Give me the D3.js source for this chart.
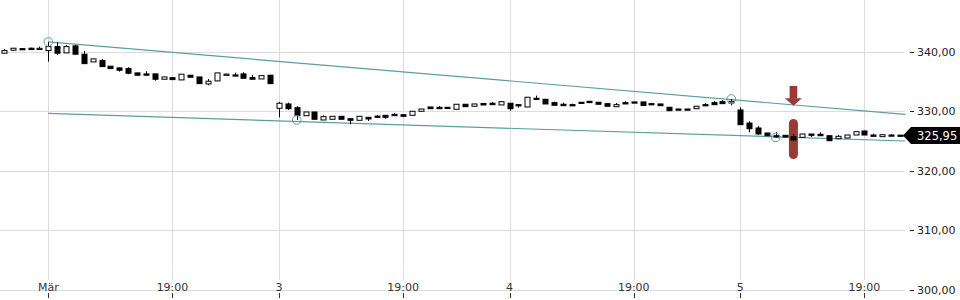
<!DOCTYPE html>
<html>
<head>
<meta charset="utf-8">
<script src="https://cdn.jsdelivr.net/npm/d3@7"></script>
<style>
  body { margin: 0; background: #fff; }
  svg { display: block; font-family: "DejaVu Sans", sans-serif; }
</style>
</head>
<body>
<svg id="chart"></svg>
<script>
// candles start at index -5 (previous session), [open, high, low, close]
const firstIndex = -5;
const candles = [
  [339.80, 340.52, 339.80, 340.24], [340.30, 340.64, 340.30, 340.64], [340.57, 340.57, 340.40, 340.40],
  [340.64, 340.74, 340.40, 340.40], [340.60, 340.91, 340.35, 340.62],
  [340.24, 341.70, 338.38, 340.91], [340.91, 341.65, 339.51, 339.80], [339.85, 341.20, 339.85, 340.91],
  [341.03, 341.20, 339.63, 339.63], [339.63, 340.19, 338.04, 338.04], [338.33, 338.84, 338.33, 338.84],
  [338.55, 338.79, 337.54, 337.54], [337.61, 337.61, 337.20, 337.20], [337.32, 337.32, 336.70, 336.93],
  [337.20, 337.44, 336.26, 336.42], [336.48, 336.48, 336.09, 336.09], [336.31, 336.76, 336.09, 336.09],
  [336.31, 336.31, 335.18, 335.41], [335.41, 335.80, 335.41, 335.80], [335.68, 335.68, 335.35, 335.35],
  [335.30, 336.26, 335.30, 336.26], [336.09, 336.09, 335.75, 335.75], [335.80, 335.80, 334.67, 334.67],
  [334.62, 335.46, 334.40, 335.08], [335.13, 336.48, 335.13, 336.48], [336.24, 336.36, 336.14, 336.27],
  [336.14, 336.53, 336.04, 336.04], [336.31, 336.59, 335.58, 335.58], [335.68, 336.09, 335.41, 335.41],
  [335.46, 336.02, 335.46, 336.02], [336.09, 336.09, 334.67, 334.67],
  [330.52, 331.59, 329.00, 331.37], [331.25, 331.47, 330.24, 330.45], [330.62, 330.91, 328.55, 329.34],
  [329.27, 329.90, 329.27, 329.90], [329.90, 329.90, 328.67, 328.67], [328.55, 329.34, 328.55, 329.11],
  [328.67, 329.17, 328.67, 329.17], [329.17, 329.17, 328.67, 328.67], [328.77, 328.77, 327.83, 328.50],
  [328.50, 329.17, 328.50, 329.17], [329.00, 329.00, 328.38, 328.72], [329.20, 329.39, 329.08, 329.08],
  [329.34, 329.34, 328.77, 329.00], [329.51, 329.68, 329.27, 329.27], [329.44, 329.44, 329.17, 329.17],
  [329.34, 330.02, 329.34, 330.02], [330.02, 330.40, 330.02, 330.40], [330.74, 330.74, 330.45, 330.45],
  [330.69, 330.91, 330.45, 330.45], [330.69, 330.69, 330.57, 330.57], [330.35, 331.20, 330.35, 331.20],
  [331.20, 331.20, 330.79, 330.79], [330.86, 331.25, 330.86, 331.25], [331.33, 331.33, 331.08, 331.08],
  [331.37, 331.59, 331.13, 331.13], [331.08, 331.64, 331.08, 331.64],
  [331.37, 331.37, 330.12, 330.45], [331.13, 331.13, 330.63, 330.96], [330.74, 332.38, 330.74, 332.38],
  [332.21, 332.65, 332.04, 332.04], [332.04, 332.04, 331.25, 331.25], [331.47, 331.64, 331.03, 331.03],
  [331.20, 331.47, 330.96, 330.96], [331.13, 331.30, 330.96, 330.96], [331.54, 331.54, 331.37, 331.37],
  [331.70, 331.70, 331.47, 331.47], [331.54, 331.54, 331.20, 331.20], [331.30, 331.30, 330.86, 330.86],
  [330.79, 331.42, 330.79, 331.13], [331.47, 331.70, 331.25, 331.25], [331.59, 331.59, 331.47, 331.47],
  [331.59, 331.59, 330.99, 330.99], [331.30, 331.30, 331.20, 331.20], [331.25, 331.25, 330.96, 330.96],
  [330.69, 330.69, 330.12, 330.12], [330.40, 330.40, 330.29, 330.29], [330.40, 330.40, 330.29, 330.29],
  [330.45, 330.86, 330.45, 330.86], [331.13, 331.37, 330.96, 330.96], [331.47, 331.70, 331.13, 331.13],
  [331.64, 331.87, 331.30, 331.30], [331.42, 332.09, 331.03, 331.70],
  [330.24, 330.69, 327.76, 327.76], [328.04, 328.33, 326.48, 327.08], [327.20, 327.54, 326.02, 326.19],
  [326.36, 326.36, 325.90, 325.90], [325.90, 326.48, 325.60, 325.68], [325.97, 325.97, 325.68, 325.68],
  [325.74, 326.20, 325.00, 325.18], [325.63, 326.19, 325.63, 326.19], [326.19, 326.19, 325.68, 325.97],
  [326.14, 326.48, 325.90, 325.90], [325.90, 325.90, 325.06, 325.06], [325.40, 326.02, 325.40, 325.80],
  [325.51, 326.02, 325.51, 326.02], [326.02, 326.58, 326.02, 326.58], [326.70, 326.70, 326.02, 326.02],
  [326.02, 326.24, 325.80, 325.80], [325.74, 326.07, 325.74, 326.07], [326.02, 326.19, 325.90, 325.90],
  [326.00, 326.00, 325.95, 325.95]
];

const xTicks = [0, 14, 26, 40, 52, 66, 78, 92];
const xTickLabels = ['Mär', '19:00', '3', '19:00', '4', '19:00', '5', '19:00'];
const yTicks = [300, 310, 320, 330, 340];
const lastPrice = 325.95;

// trend channel and the pivot points it was drawn through
const upperTrend = [[0, 341.70], [96.6, 329.50]];
const lowerTrend = [[0, 329.65], [96.6, 325.01]];
const pivots = [[0, 341.70], [28, 328.55], [77, 332.09], [82, 325.60]];

// signal markers: sell arrow above, highlighted candle below
const signalIndex = 84;
const arrowRange = [334.28, 330.95];
const pillRange = [328.72, 321.98];

const width = 960;
const height = 300;
const plotRight = 905;

const svg = d3.select('#chart').attr('width', width).attr('height', height);

let x = d3.scaleLinear().domain([0, 78]).range([48.3, 740.2]);
let y = d3.scaleLinear().domain([300, 340]).range([289.5, 52]);
const fmt = v => d3.format('.2f')(v).replace('.', ',');

// grid
svg.append('g')
    .selectAll('line')
    .data(yTicks)
    .enter().append('line')
        .attr('x1', 0).attr('x2', plotRight)
        .attr('y1', d => Math.round(y(d)) + 0.5).attr('y2', d => Math.round(y(d)) + 0.5)
        .attr('stroke', '#dcdcdc');

svg.append('g')
    .selectAll('line')
    .data(xTicks)
    .enter().append('line')
        .attr('x1', d => Math.round(x(d)) + 0.5).attr('x2', d => Math.round(x(d)) + 0.5)
        .attr('y1', 0).attr('y2', 280)
        .attr('stroke', '#dcdcdc');

// x axis labels + small ticks under the base line
let xAxis = svg.append('g');
xAxis.selectAll('text')
    .data(xTicks)
    .enter().append('text')
        .attr('x', d => x(d))
        .attr('y', 291)
        .attr('text-anchor', 'middle')
        .attr('font-size', 11)
        .attr('fill', '#333')
        .text((d, i) => xTickLabels[i]);
xAxis.selectAll('line')
    .data(xTicks)
    .enter().append('line')
        .attr('x1', d => Math.round(x(d)) + 0.5).attr('x2', d => Math.round(x(d)) + 0.5)
        .attr('y1', 293).attr('y2', 298)
        .attr('stroke', '#333');

// y axis labels
let yAxis = svg.append('g');
yAxis.selectAll('line')
    .data(yTicks)
    .enter().append('line')
        .attr('x1', 910).attr('x2', 914)
        .attr('y1', d => Math.round(y(d)) + 0.5).attr('y2', d => Math.round(y(d)) + 0.5)
        .attr('stroke', '#222');
yAxis.selectAll('text')
    .data(yTicks)
    .enter().append('text')
        .attr('x', 917)
        .attr('y', d => y(d) + 4)
        .attr('font-size', 11)
        .attr('fill', '#222')
        .text(fmt);

// trend channel
const teal = '#5a9ea2';
let line = d3.line().x(d => x(d[0])).y(d => y(d[1]));
svg.selectAll('.trend')
    .data([upperTrend, lowerTrend])
    .enter().append('path')
        .classed('trend', true)
        .attr('d', line)
        .attr('fill', 'none')
        .attr('stroke', teal)
        .attr('stroke-width', 1.2);

// signal markers
const red = '#9a3a34';
let sx = x(signalIndex);
let arrowTop = y(arrowRange[0]);
let arrowTip = y(arrowRange[1]);
svg.append('rect')
    .attr('x', sx - 3.8).attr('width', 7.6)
    .attr('y', arrowTop).attr('height', arrowTip - 7 - arrowTop)
    .attr('fill', red);
svg.append('path')
    .attr('d', `M${sx - 8.5},${arrowTip - 7.5}L${sx + 8.5},${arrowTip - 7.5}L${sx},${arrowTip}Z`)
    .attr('fill', red);
svg.append('rect')
    .attr('x', sx - 4.5).attr('width', 9)
    .attr('y', y(pillRange[0])).attr('height', y(pillRange[1]) - y(pillRange[0]))
    .attr('rx', 4.5)
    .attr('fill', red);

// candles
const bodyW = 5;
let candleGroups = svg.append('g')
    .selectAll('g')
    .data(candles)
    .enter().append('g')
        .attr('transform', (d, i) => `translate(${Math.round(x(i + firstIndex))},0)`);

candleGroups.append('line')
    .attr('x1', 0.5).attr('x2', 0.5)
    .attr('y1', d => y(d[1])).attr('y2', d => y(d[2]))
    .attr('stroke', '#000');

candleGroups.append('rect')
    .attr('x', -bodyW / 2 + 0.5)
    .attr('width', bodyW)
    .attr('y', d => y(Math.max(d[0], d[3])))
    .attr('height', d => Math.max(1.2, Math.abs(y(d[0]) - y(d[3]))))
    .attr('fill', d => d[3] >= d[0] ? '#fff' : '#000')
    .attr('stroke', '#000')
    .attr('stroke-width', 1);

// pivot circles
svg.selectAll('.pivot')
    .data(pivots)
    .enter().append('circle')
        .classed('pivot', true)
        .attr('cx', d => x(d[0]))
        .attr('cy', d => y(d[1]))
        .attr('r', 4.3)
        .attr('fill', 'none')
        .attr('stroke', teal)
        .attr('stroke-width', 1);

// last price line and tag
let lastX = x(candles.length - 1 + firstIndex);
let ly = Math.round(y(lastPrice)) + 0.5;
svg.append('line')
    .attr('x1', lastX + 4).attr('x2', 904)
    .attr('y1', ly).attr('y2', ly)
    .attr('stroke', '#000')
    .attr('stroke-dasharray', '3,2');
svg.append('path')
    .attr('d', `M903,${ly}L911,${ly - 8.5}L960,${ly - 8.5}L960,${ly + 8.5}L911,${ly + 8.5}Z`)
    .attr('fill', '#000');
svg.append('text')
    .attr('x', 917)
    .attr('y', ly + 4)
    .attr('font-size', 11.5)
    .attr('fill', '#fff')
    .text(fmt(lastPrice));
</script>
</body>
</html>
